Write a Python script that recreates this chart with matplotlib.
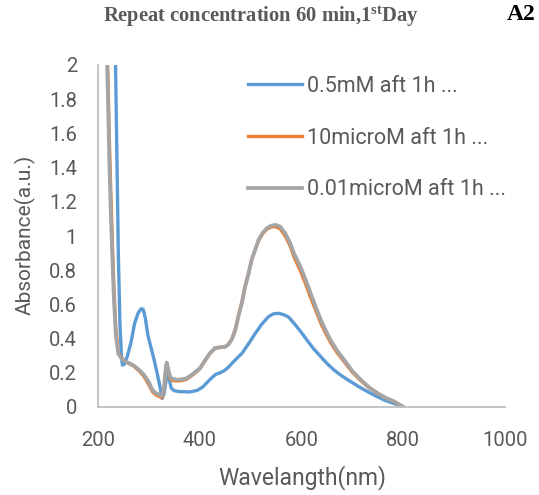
import matplotlib
matplotlib.use("Agg")
import matplotlib.pyplot as plt

# absorbance spectra
wl_05mM = [234, 237, 240, 243, 246, 248, 252, 258, 265, 272, 279, 285, 289, 293, 298,
           304, 310, 317, 321, 326, 330, 334, 337, 340, 344, 350, 360, 380, 395, 405,
           415, 425, 432, 440, 448, 456, 468, 483, 496, 509, 522, 535, 545, 555, 565,
           575, 588, 600, 611, 624, 638, 650, 664, 680, 697, 713, 730, 747, 763, 780,
           796, 800]
abs_05mM = [2.1, 1.5, 0.89, 0.5, 0.3, 0.245, 0.25, 0.30, 0.38, 0.49, 0.55, 0.575, 0.57, 0.52, 0.42,
            0.35, 0.28, 0.187, 0.13, 0.05, 0.08, 0.16, 0.2, 0.16, 0.11, 0.095, 0.09, 0.088, 0.097, 0.115,
            0.145, 0.175, 0.192, 0.2, 0.212, 0.232, 0.27, 0.314, 0.37, 0.43, 0.485, 0.528, 0.545, 0.548, 0.54,
            0.525, 0.48, 0.435, 0.39, 0.34, 0.294, 0.255, 0.216, 0.18, 0.148, 0.118, 0.09, 0.063, 0.04, 0.022,
            0.008, 0.0]

wl_low = [214, 218, 220, 222, 225, 228, 231, 235, 240, 246, 252, 260, 270, 281, 290,
          300, 307, 313, 318, 322, 326, 330, 333, 335, 338, 342, 346, 355, 365, 374,
          385, 400, 412, 420, 430, 440, 450, 456, 463, 470, 476, 483, 489, 496, 502,
          509, 516, 524, 532, 540, 549, 558, 568, 578, 585, 598, 608, 618, 628, 638,
          648, 657, 670, 684, 700, 717, 733, 750, 766, 783, 800]
abs_10uM = [2.3, 2.1, 1.88, 1.6, 1.27, 0.98, 0.72, 0.46, 0.32, 0.285, 0.27, 0.255, 0.24, 0.21, 0.18,
            0.13, 0.09, 0.072, 0.065, 0.06, 0.055, 0.11, 0.21, 0.25, 0.21, 0.165, 0.155, 0.152, 0.155, 0.162,
            0.185, 0.222, 0.278, 0.313, 0.342, 0.348, 0.352, 0.366, 0.398, 0.455, 0.535, 0.615, 0.705, 0.785, 0.862,
            0.92, 0.975, 1.015, 1.04, 1.052, 1.055, 1.042, 1.0, 0.94, 0.88, 0.795, 0.72, 0.64, 0.565, 0.49,
            0.428, 0.378, 0.318, 0.265, 0.203, 0.153, 0.112, 0.078, 0.052, 0.03, 0.0]
abs_001uM = [2.2, 2.0, 1.75, 1.47, 1.15, 0.89, 0.65, 0.42, 0.31, 0.285, 0.27, 0.258, 0.243, 0.216, 0.19,
             0.145, 0.10, 0.082, 0.075, 0.07, 0.065, 0.12, 0.22, 0.26, 0.22, 0.175, 0.165, 0.16, 0.162, 0.168,
             0.19, 0.226, 0.28, 0.315, 0.345, 0.35, 0.352, 0.365, 0.395, 0.45, 0.53, 0.61, 0.70, 0.78, 0.86,
             0.92, 0.98, 1.02, 1.045, 1.06, 1.065, 1.055, 1.016, 0.957, 0.90, 0.82, 0.745, 0.665, 0.585, 0.509,
             0.445, 0.392, 0.33, 0.275, 0.21, 0.158, 0.115, 0.08, 0.053, 0.031, 0.0]

labels = ['0.5mM aft 1h ...', '10microM aft 1h ...', '0.01microM aft 1h ...']
colors = ['#5B9BD5', '#ED7D31', '#A5A5A5']
x_ticks = [200, 400, 600, 800, 1000]
y_ticks = [0, 0.2, 0.4, 0.6, 0.8, 1, 1.2, 1.4, 1.6, 1.8, 2]

plt.rcParams['font.family'] = ['Roboto', 'DejaVu Sans']
plt.rcParams['mathtext.fontset'] = 'custom'
plt.rcParams['mathtext.rm'] = 'Liberation Serif:bold'
plt.rcParams['mathtext.it'] = 'Liberation Serif:bold'
plt.rcParams['mathtext.bf'] = 'Liberation Serif:bold'

text_col = '#595959'
fig = plt.figure(figsize=(5.39, 4.95), dpi=100)
ax = fig.add_axes([98/539, 1-407/495, 407/539, 342/495])

ax.plot(wl_05mM, abs_05mM, color=colors[0], lw=2.4, label=labels[0])
ax.plot(wl_low, abs_10uM, color=colors[1], lw=2.4, label=labels[1])
ax.plot(wl_low, abs_001uM, color=colors[2], lw=2.7, label=labels[2])

ax.set_xlim(200, 1000)
ax.set_ylim(0, 2)
ax.set_xticks(x_ticks)
ax.set_xticklabels([str(v) for v in x_ticks])
ax.set_yticks(y_ticks)
ax.set_yticklabels(['%g' % v for v in y_ticks])
ax.tick_params(axis='both', length=0, labelsize=14.5, labelcolor=text_col)
ax.tick_params(axis='y', pad=15)
ax.tick_params(axis='x', pad=17)

for s in ['top', 'right']:
    ax.spines[s].set_visible(False)
for s in ['left', 'bottom']:
    ax.spines[s].set_color('#BFBFBF')
    ax.spines[s].set_linewidth(1.3)

fig.text(25/539, 1-235/495, 'Absorbance(a.u.)', rotation=90, ha='center', va='center',
         fontsize=15, color=text_col)
fig.text(302/539, 1-478/495, 'Wavelangth(nm)', ha='center', va='center',
         fontsize=16.5, color=text_col)

fig.text(103/539, 1-17/495, r'Repeat concentration 60 min,1$^{\rm st}$Day', ha='left', va='center',
         fontsize=14.8, color=text_col, family='Liberation Serif', weight='bold')
fig.text(536/539, 1-15/495, 'A2', ha='right', va='center', fontsize=17,
         color='black', family='Liberation Serif', weight='bold')

leg = ax.legend(loc='upper left', bbox_to_anchor=(248/539, 1-76/495), bbox_transform=fig.transFigure,
                frameon=False, fontsize=15.5, handlelength=2.5, handletextpad=0.23,
                labelspacing=1.42, borderpad=0, borderaxespad=0)
for t in leg.get_texts():
    t.set_color(text_col)

fig.savefig('out.png', dpi=100)
